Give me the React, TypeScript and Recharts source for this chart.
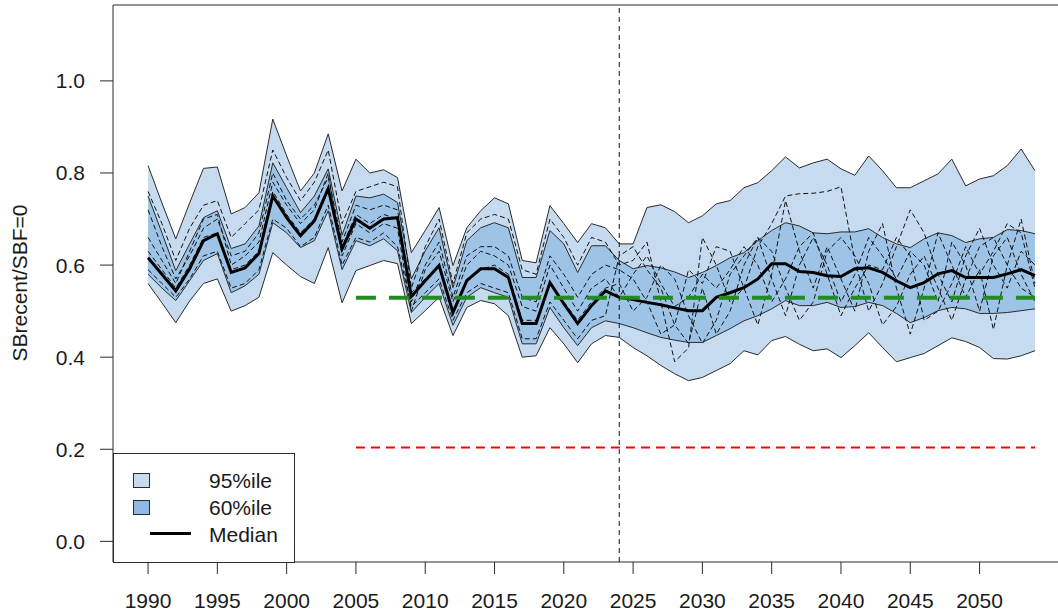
import {
  Area,
  ComposedChart,
  Line,
  ReferenceLine,
  XAxis,
  YAxis,
} from "recharts"

// years 1990-2054 (historical + projection)
const years = [
  1990, 1991, 1992, 1993, 1994, 1995, 1996, 1997, 1998, 1999,
  2000, 2001, 2002, 2003, 2004, 2005, 2006, 2007, 2008, 2009,
  2010, 2011, 2012, 2013, 2014, 2015, 2016, 2017, 2018, 2019,
  2020, 2021, 2022, 2023, 2024, 2025, 2026, 2027, 2028, 2029,
  2030, 2031, 2032, 2033, 2034, 2035, 2036, 2037, 2038, 2039,
  2040, 2041, 2042, 2043, 2044, 2045, 2046, 2047, 2048, 2049,
  2050, 2051, 2052, 2053, 2054,
]

const hi95 = [
  0.816, 0.735, 0.657, 0.735, 0.81, 0.813, 0.711, 0.725, 0.757, 0.917,
  0.837, 0.761, 0.8, 0.885, 0.761, 0.83, 0.8, 0.807, 0.79, 0.627,
  0.675, 0.725, 0.599, 0.681, 0.718, 0.746, 0.733, 0.61, 0.605, 0.729,
  0.69, 0.649, 0.69, 0.681, 0.646, 0.646, 0.725, 0.731, 0.716, 0.692,
  0.707, 0.733, 0.74, 0.768, 0.779, 0.805, 0.835, 0.811, 0.822, 0.83,
  0.809, 0.795, 0.837, 0.805, 0.768, 0.768, 0.783, 0.798, 0.83, 0.772,
  0.787, 0.794, 0.816, 0.852, 0.805,
]

const lo95 = [
  0.56, 0.518, 0.475, 0.522, 0.56, 0.57, 0.5, 0.512, 0.53, 0.627,
  0.6, 0.575, 0.56, 0.638, 0.518, 0.588, 0.599, 0.61, 0.603, 0.473,
  0.501, 0.53, 0.447, 0.508, 0.523, 0.516, 0.49, 0.4, 0.403, 0.464,
  0.429, 0.388, 0.429, 0.447, 0.443, 0.421, 0.403, 0.382, 0.364, 0.349,
  0.356, 0.371, 0.386, 0.414, 0.405, 0.436, 0.445, 0.428, 0.414, 0.418,
  0.399, 0.425, 0.453, 0.421, 0.39, 0.399, 0.408, 0.425, 0.442, 0.434,
  0.421, 0.397, 0.396, 0.403, 0.414,
]

const hi60 = [
  0.75, 0.67, 0.588, 0.646, 0.703, 0.718, 0.636, 0.646, 0.685, 0.822,
  0.768, 0.714, 0.75, 0.809, 0.665, 0.75, 0.746, 0.754, 0.736, 0.57,
  0.631, 0.681, 0.551, 0.653, 0.681, 0.692, 0.681, 0.573, 0.573, 0.675,
  0.646, 0.584, 0.642, 0.642, 0.61, 0.592, 0.599, 0.594, 0.585, 0.573,
  0.584, 0.599, 0.616, 0.627, 0.653, 0.675, 0.692, 0.685, 0.67, 0.668,
  0.672, 0.672, 0.679, 0.66, 0.646, 0.638, 0.657, 0.67, 0.664, 0.649,
  0.657, 0.66, 0.677, 0.675, 0.668,
]

const lo60 = [
  0.58, 0.55, 0.523, 0.566, 0.61, 0.625, 0.54, 0.555, 0.58, 0.692,
  0.67, 0.638, 0.653, 0.718, 0.59, 0.653, 0.642, 0.657, 0.631, 0.497,
  0.53, 0.56, 0.469, 0.53, 0.551, 0.54, 0.53, 0.429, 0.429, 0.508,
  0.464, 0.425, 0.464, 0.479, 0.473, 0.464, 0.453, 0.443, 0.437, 0.432,
  0.432, 0.447, 0.462, 0.479, 0.49, 0.505, 0.523, 0.512, 0.512, 0.519,
  0.508, 0.51, 0.519, 0.512, 0.495, 0.475, 0.486, 0.501, 0.508, 0.505,
  0.495, 0.495, 0.497, 0.501, 0.505,
]

const median = [
  0.616, 0.58, 0.544, 0.592, 0.653, 0.668, 0.584, 0.594, 0.625, 0.75,
  0.703, 0.664, 0.696, 0.766, 0.635, 0.7, 0.68, 0.7, 0.703, 0.532,
  0.566, 0.599, 0.497, 0.566, 0.592, 0.592, 0.573, 0.473, 0.473, 0.562,
  0.516, 0.473, 0.512, 0.544, 0.53, 0.525, 0.519, 0.514, 0.507, 0.501,
  0.501, 0.53, 0.54, 0.551, 0.57, 0.603, 0.603, 0.586, 0.584, 0.577,
  0.575, 0.592, 0.594, 0.584, 0.566, 0.551, 0.562, 0.581, 0.588, 0.573,
  0.573, 0.573, 0.581, 0.59, 0.577,
]

// individual worm trajectories (dashed)
const worm1 = [
  0.76, 0.69, 0.61, 0.68, 0.73, 0.74, 0.66, 0.69, 0.72, 0.85,
  0.79, 0.74, 0.78, 0.85, 0.69, 0.76, 0.77, 0.78, 0.77, 0.55,
  0.64, 0.7, 0.56, 0.67, 0.7, 0.71, 0.7, 0.59, 0.58, 0.7,
  0.66, 0.6, 0.66, 0.65, 0.6, 0.61, 0.65, 0.52, 0.39, 0.42,
  0.66, 0.6, 0.52, 0.55, 0.64, 0.69, 0.75, 0.755, 0.756, 0.76,
  0.77, 0.61, 0.5, 0.56, 0.64, 0.72, 0.67, 0.58, 0.52, 0.62,
  0.68, 0.6, 0.55, 0.63, 0.6,
]
const worm2 = [
  0.72, 0.64, 0.57, 0.62, 0.68, 0.7, 0.62, 0.63, 0.67, 0.8,
  0.74, 0.7, 0.73, 0.79, 0.65, 0.73, 0.72, 0.73, 0.72, 0.52,
  0.6, 0.65, 0.53, 0.62, 0.64, 0.64, 0.62, 0.53, 0.52, 0.62,
  0.58, 0.53, 0.58, 0.6, 0.59, 0.57, 0.52, 0.45, 0.47, 0.59,
  0.56, 0.64, 0.63, 0.55, 0.47, 0.58, 0.74, 0.63, 0.55, 0.64,
  0.57, 0.5, 0.63, 0.69, 0.55, 0.45, 0.55, 0.67, 0.6, 0.53,
  0.59, 0.46, 0.6, 0.7, 0.56,
]
const worm3 = [
  0.63, 0.59, 0.55, 0.6, 0.66, 0.67, 0.59, 0.6, 0.63, 0.76,
  0.71, 0.67, 0.7, 0.77, 0.64, 0.71, 0.69, 0.71, 0.7, 0.54,
  0.57, 0.6, 0.5, 0.57, 0.59, 0.6, 0.58, 0.48, 0.48, 0.56,
  0.52, 0.48, 0.52, 0.55, 0.56, 0.5, 0.53, 0.6, 0.57, 0.49,
  0.43, 0.48, 0.58, 0.62, 0.66, 0.57, 0.49, 0.6, 0.66, 0.6,
  0.52, 0.58, 0.66, 0.62, 0.57, 0.63, 0.6, 0.52, 0.65, 0.6,
  0.5, 0.62, 0.66, 0.58, 0.52,
]
const worm4 = [
  0.59, 0.56, 0.53, 0.57, 0.62, 0.63, 0.55, 0.56, 0.59, 0.7,
  0.68, 0.64, 0.66, 0.73, 0.6, 0.66, 0.65, 0.67, 0.64, 0.51,
  0.54, 0.57, 0.48, 0.54, 0.56, 0.55, 0.54, 0.44, 0.44, 0.52,
  0.48, 0.44, 0.48, 0.49, 0.62, 0.64, 0.59, 0.55, 0.47, 0.43,
  0.55, 0.45, 0.5, 0.6, 0.66, 0.63, 0.55, 0.48, 0.52, 0.63,
  0.66, 0.62, 0.56, 0.47, 0.51, 0.58, 0.62, 0.55, 0.48, 0.57,
  0.64, 0.66, 0.6, 0.55, 0.53,
]
const worm5 = [
  0.66, 0.61, 0.56, 0.63, 0.7, 0.71, 0.6, 0.62, 0.65, 0.78,
  0.73, 0.69, 0.72, 0.8, 0.62, 0.69, 0.67, 0.69, 0.68, 0.5,
  0.59, 0.63, 0.52, 0.6, 0.63, 0.62, 0.6, 0.51, 0.5, 0.6,
  0.55, 0.5, 0.55, 0.57, 0.53, 0.58, 0.62, 0.56, 0.51, 0.53,
  0.58, 0.55, 0.59, 0.64, 0.6, 0.52, 0.57, 0.64, 0.67, 0.58,
  0.49, 0.55, 0.6, 0.59, 0.66, 0.62, 0.48, 0.5, 0.56, 0.64,
  0.58, 0.63, 0.69, 0.67, 0.55,
]

const xTicks = [1990, 1995, 2000, 2005, 2010, 2015, 2020, 2025, 2030, 2035, 2040, 2045, 2050]
const yTicks = [0, 0.2, 0.4, 0.6, 0.8, 1.0]
const xDomain = [1987.47, 2055.66]
const yDomain = [-0.0448, 1.1648]

const projectionStart = 2024
const refFrom = 2005
const refTo = 2054
const targetRef = 0.529
const limitRef = 0.204

const FONT = '"Liberation Sans", Arial, sans-serif'
const LIGHT = "#C6DBEF"
const MID = "#9DC3E6"
const EDGE = "#2a2a2a"

const data = years.map((year, i) => ({
  year,
  b95: [lo95[i], hi95[i]],
  b60: [lo60[i], hi60[i]],
  hi95: hi95[i],
  lo95: lo95[i],
  hi60: hi60[i],
  lo60: lo60[i],
  med: median[i],
  w1: worm1[i],
  w2: worm2[i],
  w3: worm3[i],
  w4: worm4[i],
  w5: worm5[i],
}))

const wormKeys = ["w1", "w2", "w3", "w4", "w5"]
const edgeKeys = ["hi95", "lo95", "hi60", "lo60"]

function LegendBox() {
  return (
    <div
      style={{
        position: "absolute",
        left: 113,
        top: 453,
        width: 180,
        height: 108,
        border: `1px solid ${EDGE}`,
        background: "#fff",
        fontFamily: FONT,
        fontSize: 21,
        color: "#1a1a1a",
      }}
    >
      <div style={{ position: "absolute", left: 19, top: 19, width: 15, height: 13, background: LIGHT, border: `1px solid ${EDGE}` }} />
      <div style={{ position: "absolute", left: 19, top: 46, width: 15, height: 13, background: "#8EBAE3", border: `1px solid ${EDGE}` }} />
      <div style={{ position: "absolute", left: 36, top: 78, width: 41, height: 3, background: "#000" }} />
      <div style={{ position: "absolute", left: 95, top: 15, lineHeight: "24px" }}>95%ile</div>
      <div style={{ position: "absolute", left: 95, top: 42, lineHeight: "24px" }}>60%ile</div>
      <div style={{ position: "absolute", left: 95, top: 69, lineHeight: "24px" }}>Median</div>
    </div>
  )
}

export default function App() {
  return (
    <div style={{ position: "absolute", left: 0, top: 0, width: 1058, height: 615, background: "#fff", fontFamily: FONT }}>
      <ComposedChart
        width={1058}
        height={615}
        data={data}
        margin={{ top: 5, right: 0, left: 0, bottom: 0 }}
      >
        <XAxis
          dataKey="year"
          type="number"
          domain={xDomain}
          ticks={xTicks}
          interval={0}
          allowDataOverflow
          height={53}
          tickSize={12}
          tickMargin={19}
          stroke={EDGE}
          tick={{ fill: "#1a1a1a", fontSize: 21, fontFamily: FONT }}
        />
        <YAxis
          type="number"
          domain={yDomain}
          ticks={yTicks}
          interval={0}
          allowDataOverflow
          width={113}
          tickSize={13}
          tickMargin={15}
          stroke={EDGE}
          tickFormatter={(v: number) => v.toFixed(1)}
          tick={{ fill: "#1a1a1a", fontSize: 21, fontFamily: FONT }}
        />
        <ReferenceLine y={yDomain[1]} stroke={EDGE} strokeWidth={1} ifOverflow="visible" />

        <Area dataKey="b95" type="linear" fill={LIGHT} fillOpacity={1} stroke="none" isAnimationActive={false} />
        <Area dataKey="b60" type="linear" fill={MID} fillOpacity={1} stroke="none" isAnimationActive={false} />

        {edgeKeys.map((k) => (
          <Line
            key={k}
            dataKey={k}
            type="linear"
            stroke={EDGE}
            strokeWidth={1}
            dot={false}
            activeDot={false}
            isAnimationActive={false}
          />
        ))}

        {wormKeys.map((k) => (
          <Line
            key={k}
            dataKey={k}
            type="linear"
            stroke="#111"
            strokeWidth={1}
            strokeDasharray="5 3"
            dot={false}
            activeDot={false}
            isAnimationActive={false}
          />
        ))}

        <Line
          dataKey="med"
          type="linear"
          stroke="#000"
          strokeWidth={3}
          dot={false}
          activeDot={false}
          isAnimationActive={false}
        />

        <ReferenceLine
          segment={[{ x: refFrom, y: targetRef }, { x: refTo, y: targetRef }]}
          stroke="#228B22"
          strokeWidth={4}
          strokeDasharray="20 13"
        />
        <ReferenceLine
          segment={[{ x: refFrom, y: limitRef }, { x: refTo, y: limitRef }]}
          stroke="#FF0000"
          strokeWidth={2}
          strokeDasharray="9 6"
        />
        <ReferenceLine x={projectionStart} stroke="#111" strokeWidth={1} strokeDasharray="5 4" />
      </ComposedChart>

      <div
        style={{
          position: "absolute",
          left: 20,
          top: 283,
          transform: "translate(-50%, -50%) rotate(-90deg)",
          whiteSpace: "nowrap",
          fontSize: 21,
          color: "#1a1a1a",
        }}
      >
        SBrecent/SBF=0
      </div>

      <LegendBox />
    </div>
  )
}
